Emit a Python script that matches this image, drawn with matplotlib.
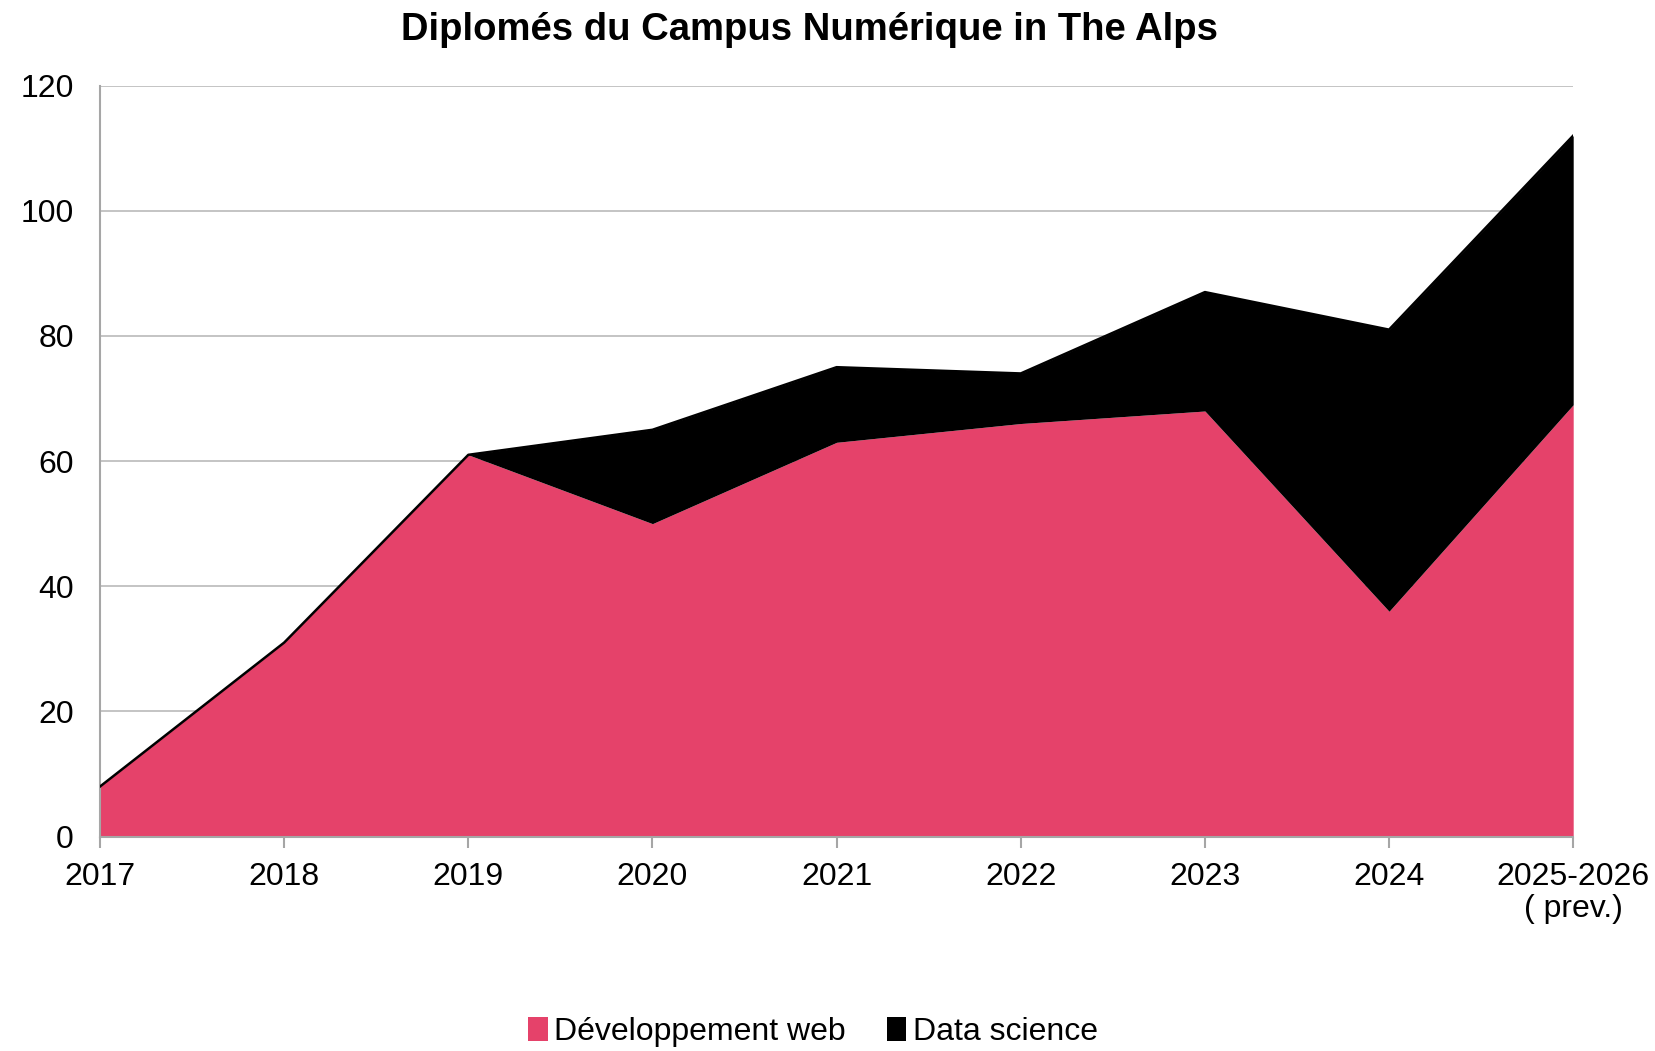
import matplotlib.pyplot as plt
import numpy as np

# données
annees = ["2017", "2018", "2019", "2020", "2021", "2022", "2023", "2024", "2025-2026\n( prev.)"]
dev_web = [8, 31, 61, 50, 63, 66, 68, 36, 69]
data_science = [0, 0, 0, 15, 12, 8, 19, 45, 43]

ROSE = "#E5426A"
GRIS = "#A6A6A6"

plt.rcParams['font.family'] = ['Liberation Sans', 'DejaVu Sans']

fig = plt.figure(figsize=(16.56, 10.51), dpi=100)
ax = fig.add_axes([0.0604, 0.204, 0.8896, 0.7146])

x = np.arange(len(annees))
web = np.array(dev_web)
total = web + np.array(data_science)

ax.fill_between(x, 0, web, color=ROSE, linewidth=0, zorder=2, label="Développement web")
ax.fill_between(x, web, total, color="black", linewidth=0, zorder=2, label="Data science")
ax.plot(x, total, color="black", linewidth=1.8, zorder=3)

ax.set_xlim(0, len(annees) - 1)
ax.set_ylim(0, 120)
ax.set_yticks(range(0, 121, 20))
ax.set_xticks(x)
ax.set_xticklabels(annees, fontsize=23, linespacing=1.12)
ax.tick_params(axis='y', labelsize=23, length=0, pad=19)
ax.tick_params(axis='x', length=8, color=GRIS, width=1.5, pad=10)

ax.grid(axis='y', color="#BFBFBF", linewidth=1.3, zorder=0)
ax.set_axisbelow(True)
for s in ["top", "right"]:
    ax.spines[s].set_visible(False)
ax.spines["left"].set_color(GRIS)
ax.spines["bottom"].set_color(GRIS)
ax.spines["left"].set_linewidth(1.5)
ax.spines["bottom"].set_linewidth(1.5)

fig.text(0.489, 0.971, "Diplomés du Campus Numérique in The Alps", ha="center", va="center",
         fontsize=27.5, fontweight="bold")

fig.legend(loc="center", bbox_to_anchor=(0.491, 0.018), ncol=2, frameon=False, fontsize=23,
           handlelength=0.6, handleheight=0.8, handletextpad=0.2, columnspacing=1.3)

fig.savefig("out.png", dpi=100)
